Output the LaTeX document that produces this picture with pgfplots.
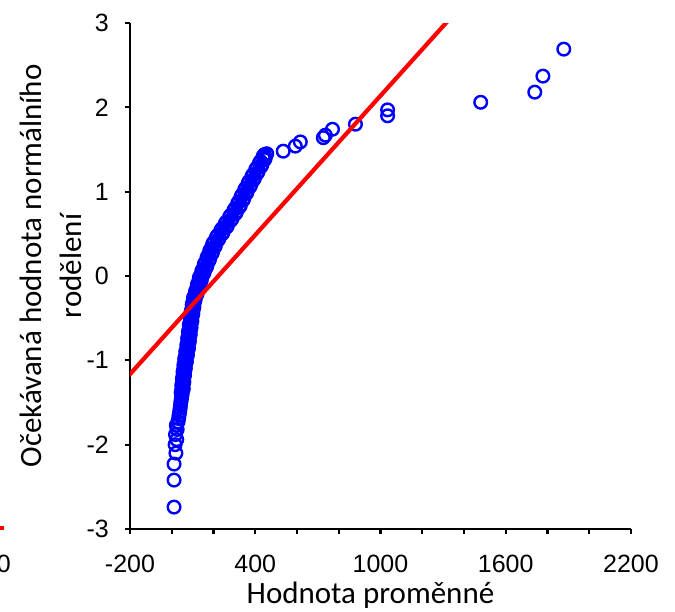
\documentclass[border=0pt]{standalone}
\usepackage{fontspec}
\setmainfont{Carlito}
\newfontfamily\arialfont{Liberation Sans}
\usepackage{pgfplots}
\pgfplotsset{compat=1.18}
\definecolor{qqBlue}{RGB}{0,0,255}
\definecolor{qqRed}{RGB}{255,0,0}

\begin{document}
\begin{tikzpicture}
\begin{axis}[
    at={(130bp,-529bp)}, anchor=south west,
    scale only axis, width=501bp, height=506bp,
    xmin=-200, xmax=2200, ymin=-3, ymax=3,
    axis x line*=bottom, axis y line*=left,
    axis line style={line width=2.5bp, black},
    xtick={-200,400,1000,1600,2200},
    xticklabels={-200,400,1000,1600,2200},
    minor xtick={0,200,600,800,1200,1400,1800,2000},
    ytick={-3,-2,-1,0,1,2,3},
    yticklabels={-3,-2,-1,0,1,2,3},
    tick align=outside,
    major tick length=5bp, minor tick length=5bp,
    tick style={line width=2.3bp, black},
    tick label style={font=\arialfont\fontsize{25bp}{30bp}\selectfont, inner sep=0pt},
    xticklabel style={anchor=north, yshift=-21bp},
    yticklabel style={anchor=east, xshift=-16bp},
    xlabel={Hodnota proměnné},
    ylabel={Očekávaná hodnota normálního\\rodělení},
    every axis x label/.style={at={(axis description cs:0.48,0)}, anchor=base, yshift=-74bp,
        font=\fontsize{31bp}{40bp}\selectfont},
    every axis y label/.style={at={(axis description cs:-0.158,0.52)}, anchor=center, rotate=90,
        align=center, font=\fontsize{31bp}{40bp}\selectfont},
    clip mode=individual,
]
% observed values against expected normal quantiles
\addplot[only marks, mark=o, mark size=6.3bp, qqBlue, mark options={line width=2.4bp}] coordinates {
 (11,-2.74) (11,-2.42) (11,-2.23) (20,-2.10) (16,-2.00) (24,-1.94) (18,-1.88) (26,-1.82)
 (22,-1.77) (30,-1.73) (33,-1.69) (35,-1.65) (38,-1.61) (40,-1.57) (42,-1.53) (44,-1.49)
 (46,-1.46) (47,-1.43)
 (50,-1.40) (47,-1.36) (54,-1.32) (50,-1.28) (57,-1.24) (53,-1.20) (61,-1.16) (56,-1.12)
 (64,-1.08) (60,-1.04) (69,-1.00) (65,-0.96) (74,-0.92) (70,-0.88) (79,-0.84) (75,-0.80)
 (84,-0.76) (79,-0.72) (88,-0.68) (83,-0.64) (92,-0.60) (87,-0.56) (96,-0.52) (91,-0.48)
 (101,-0.44) (96,-0.40) (106,-0.36) (100,-0.32) (112,-0.28) (108,-0.24) (122,-0.20) (118,-0.16)
 (133,-0.12) (127,-0.08) (142,-0.04) (137,0.00) (155,0.04) (149,0.08) (168,0.12) (161,0.16)
 (181,0.20) (174,0.24) (195,0.28) (187,0.32) (209,0.36) (201,0.40) (226,0.44) (219,0.48)
 (246,0.52) (240,0.56) (267,0.60) (261,0.64) (289,0.68) (282,0.72) (310,0.76) (303,0.80)
 (329,0.84) (320,0.88) (345,0.92) (336,0.96) (361,1.00) (353,1.04) (378,1.08) (370,1.12)
 (396,1.16) (388,1.20) (414,1.24) (406,1.28) (432,1.32) (425,1.36) (448,1.40) (444,1.44)
 (45,-1.38) (55,-1.34) (48,-1.30) (58,-1.26) (51,-1.22) (61,-1.18) (54,-1.14) (65,-1.10)
 (58,-1.06) (70,-1.02) (62,-0.98) (75,-0.94) (67,-0.90) (80,-0.86) (72,-0.82) (84,-0.78)
 (76,-0.74) (88,-0.70) (80,-0.66) (92,-0.62) (84,-0.58) (96,-0.54) (88,-0.50) (100,-0.46)
 (93,-0.42) (105,-0.38) (98,-0.34) (110,-0.30) (104,-0.26) (120,-0.22) (114,-0.18) (130,-0.14)
 (123,-0.10) (140,-0.06) (132,-0.02) (151,0.02) (144,0.06) (165,0.10) (156,0.14) (178,0.18)
 (169,0.22) (191,0.26) (182,0.30) (205,0.34) (196,0.38) (220,0.42) (214,0.46) (242,0.50)
 (235,0.54) (263,0.58) (256,0.62) (284,0.66) (277,0.70) (306,0.74) (298,0.78) (325,0.82)
 (316,0.86) (342,0.90) (332,0.94) (358,0.98) (349,1.02) (375,1.06) (366,1.10) (392,1.14)
 (384,1.18) (410,1.22) (402,1.26) (428,1.30) (420,1.34) (445,1.38) (438,1.42) (455,1.45)
 (534,1.48) (592,1.54) (616,1.59) (726,1.64) (736,1.67) (770,1.74) (880,1.80) (1034,1.90)
 (1034,1.97) (1480,2.06) (1739,2.18) (1778,2.37) (1878,2.69)
};
% reference line of the normal distribution
\addplot[qqRed, line width=4.2bp] coordinates {(-260,-1.329) (1400,3.238)};
\end{axis}
% edge of the neighbouring chart, cut off by the crop
\draw[qqRed, line width=3.5bp] (-2bp,-528bp) -- (4bp,-528bp);
\node[anchor=base east, inner sep=0pt, font=\arialfont\fontsize{25bp}{30bp}\selectfont] at (11bp,-572bp) {0};
\pgfresetboundingbox
\path[use as bounding box] (0bp,0bp) rectangle (675bp,-612bp);
\end{tikzpicture}
\end{document}
